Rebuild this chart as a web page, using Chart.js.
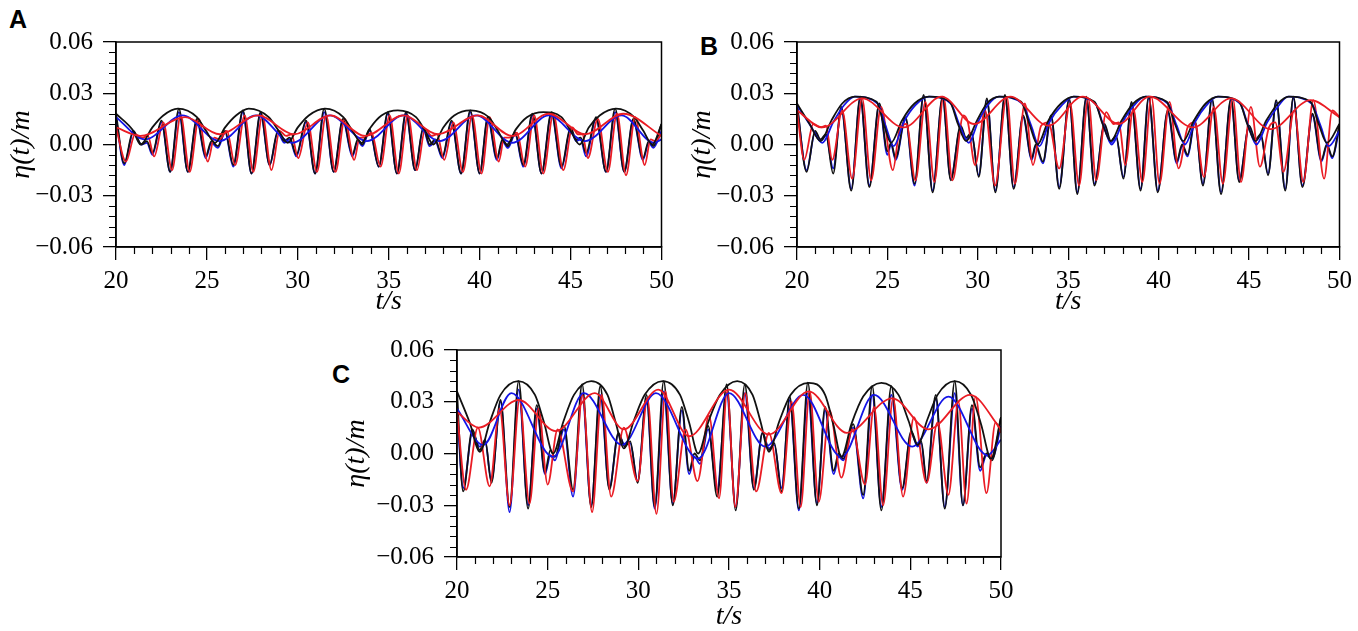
<!DOCTYPE html>
<html>
<head>
<meta charset="utf-8">
<script src="https://cdn.jsdelivr.net/npm/chart.js@4.4.0/dist/chart.umd.min.js"></script>
<style>
  body { margin: 0; background: #fff; width: 1358px; height: 631px; overflow: hidden; position: relative; }
  canvas { position: absolute; }
  .tag { position: absolute; font: bold 25px 'Liberation Sans', Arial, sans-serif; color: #000; line-height: 1; }
</style>
</head>
<body>
<div class="tag" style="left:9px;top:7px">A</div>
<div class="tag" style="left:700px;top:34px">B</div>
<div class="tag" style="left:332px;top:362px">C</div>
<canvas id="panelA" width="680" height="320" style="left:0;top:0"></canvas>
<canvas id="panelB" width="678" height="320" style="left:680px;top:0"></canvas>
<canvas id="panelC" width="680" height="321" style="left:340px;top:310px"></canvas>
<script>
const xTicks = [20, 25, 30, 35, 40, 45, 50];
const yTicks = [-0.06, -0.03, 0.00, 0.03, 0.06];

// ---- panel A ----
const aFastT = [20.0, 20.45, 20.95, 21.4, 21.7, 22.0, 22.5, 22.98, 23.46, 23.95, 24.45, 24.93, 25.25, 25.6, 26.0, 26.45, 26.98, 27.45, 27.95, 28.45, 28.9, 29.25, 29.55, 29.92, 30.45, 30.95, 31.45, 31.97, 32.48, 33.0, 33.3, 33.55, 33.95, 34.45, 34.95, 35.45, 35.95, 36.45, 36.9, 37.25, 37.55, 37.95, 38.45, 38.98, 39.48, 40.0, 40.45, 40.95, 41.25, 41.55, 41.95, 42.4, 42.9, 43.4, 43.95, 44.5, 45.0, 45.3, 45.55, 45.85, 46.4, 46.95, 47.45, 47.95, 48.45, 48.98, 49.3, 49.55, 50.0];
const aBlackFast = [0.018, -0.011, 0.008, 0.000, 0.002, -0.005, 0.014, -0.016, 0.021, -0.016, 0.015, -0.007, 0.002, -0.001, 0.008, -0.012, 0.020, -0.017, 0.019, -0.012, 0.008, 0.002, 0.004, -0.006, 0.014, -0.017, 0.021, -0.016, 0.015, -0.006, 0.003, 0.000, 0.009, -0.013, 0.019, -0.017, 0.019, -0.015, 0.010, 0.000, 0.003, -0.007, 0.014, -0.017, 0.020, -0.017, 0.016, -0.008, 0.003, -0.001, 0.007, -0.012, 0.018, -0.017, 0.019, -0.013, 0.010, 0.003, 0.004, -0.005, 0.016, -0.016, 0.021, -0.016, 0.015, -0.008, 0.002, -0.001, 0.012];
const aBlueFast = [0.016, -0.012, 0.007, 0.000, 0.001, -0.006, 0.013, -0.016, 0.019, -0.016, 0.014, -0.008, 0.001, -0.002, 0.007, -0.013, 0.019, -0.017, 0.018, -0.012, 0.007, 0.001, 0.003, -0.007, 0.013, -0.017, 0.019, -0.016, 0.014, -0.007, 0.002, -0.001, 0.008, -0.013, 0.018, -0.017, 0.018, -0.015, 0.009, -0.001, 0.002, -0.008, 0.013, -0.017, 0.019, -0.017, 0.015, -0.009, 0.002, -0.002, 0.006, -0.013, 0.017, -0.017, 0.018, -0.014, 0.009, 0.002, 0.003, -0.007, 0.015, -0.016, 0.019, -0.016, 0.014, -0.009, 0.001, -0.002, 0.008];
const aRedFastT = [20.0, 20.55, 21.05, 21.45, 21.75, 22.1, 22.6, 23.08, 23.56, 24.05, 24.55, 25.05, 25.4, 25.7, 26.1, 26.55, 27.08, 27.55, 28.05, 28.55, 29.0, 29.35, 29.65, 30.02, 30.55, 31.05, 31.55, 32.07, 32.58, 33.1, 33.4, 33.65, 34.05, 34.55, 35.05, 35.55, 36.05, 36.55, 37.0, 37.35, 37.65, 38.05, 38.55, 39.08, 39.58, 40.1, 40.55, 41.05, 41.35, 41.65, 42.05, 42.5, 43.0, 43.5, 44.05, 44.6, 45.1, 45.4, 45.65, 45.95, 46.5, 47.05, 47.55, 48.05, 48.55, 49.08, 49.4, 49.65, 50.0];
const aRedFast = [0.010, -0.010, 0.006, 0.004, 0.005, -0.007, 0.013, -0.015, 0.017, -0.016, 0.015, -0.010, 0.004, 0.003, 0.008, -0.012, 0.017, -0.016, 0.017, -0.015, 0.008, 0.005, 0.006, -0.008, 0.013, -0.016, 0.017, -0.016, 0.015, -0.009, 0.004, 0.004, 0.007, -0.013, 0.017, -0.017, 0.017, -0.015, 0.009, 0.005, 0.006, -0.009, 0.013, -0.016, 0.017, -0.017, 0.016, -0.010, 0.004, 0.004, 0.007, -0.013, 0.017, -0.017, 0.018, -0.015, 0.010, 0.006, 0.006, -0.008, 0.015, -0.016, 0.018, -0.018, 0.016, -0.012, 0.003, 0.002, 0.006];
const aBlackSlowT = [20.0, 20.95, 21.35, 22.0, 22.6, 23.4, 24.45, 24.95, 25.45, 26.0, 26.6, 27.3, 28.4, 28.95, 29.45, 30.0, 30.6, 31.5, 32.5, 33.0, 33.5, 34.0, 34.6, 35.5, 36.5, 37.0, 37.45, 38.0, 38.6, 39.5, 40.5, 41.0, 41.5, 42.0, 42.6, 43.5, 44.5, 45.0, 45.5, 46.0, 46.6, 47.5, 48.5, 49.0, 49.5, 50.0];
const aBlackSlow = [0.018, 0.008, 0.000, 0.010, 0.017, 0.021, 0.016, 0.008, 0.001, 0.010, 0.017, 0.021, 0.016, 0.008, 0.001, 0.010, 0.017, 0.021, 0.016, 0.008, 0.001, 0.010, 0.017, 0.020, 0.016, 0.008, 0.000, 0.010, 0.017, 0.020, 0.016, 0.008, 0.000, 0.009, 0.016, 0.019, 0.016, 0.008, 0.000, 0.010, 0.017, 0.021, 0.016, 0.008, 0.000, 0.012];
const aBlueSlowT = [20.0, 21.6, 23.65, 25.7, 27.7, 29.7, 31.75, 33.8, 35.8, 37.8, 39.8, 41.8, 43.8, 45.8, 47.8, 49.6, 50.0];
const aBlueSlow = [0.016, 0.003, 0.017, 0.002, 0.017, 0.001, 0.017, 0.002, 0.017, 0.002, 0.017, 0.001, 0.017, 0.002, 0.017, 0.001, 0.003];
const aRedSlowT = [20.0, 21.35, 23.8, 25.7, 27.8, 29.8, 31.8, 33.7, 35.8, 37.7, 39.9, 41.8, 43.8, 45.8, 47.9, 50.0];
const aRedSlow = [0.010, 0.005, 0.016, 0.006, 0.017, 0.006, 0.017, 0.005, 0.017, 0.006, 0.017, 0.005, 0.018, 0.006, 0.018, 0.005];

// ---- panel B ----
const bFastT = [20.0, 20.53, 21.0, 21.3, 21.6, 22.0, 22.45, 23.0, 23.5, 24.0, 24.55, 25.0, 25.2, 25.45, 26.0, 26.5, 27.0, 27.5, 28.05, 28.5, 29.05, 29.35, 29.65, 30.05, 30.5, 30.97, 31.5, 31.98, 32.5, 32.98, 33.2, 33.6, 34.05, 34.5, 35.05, 35.5, 36.0, 36.45, 37.0, 37.35, 37.65, 38.05, 38.5, 39.0, 39.45, 39.95, 40.5, 41.0, 41.3, 41.6, 42.0, 42.45, 42.95, 43.45, 44.0, 44.45, 45.0, 45.35, 45.65, 46.05, 46.5, 47.0, 47.45, 47.95, 48.5, 49.0, 49.3, 49.6, 50.0];
const bBlackFast = [0.024, -0.016, 0.008, 0.003, 0.006, -0.017, 0.022, -0.027, 0.028, -0.025, 0.024, -0.004, 0.001, -0.008, 0.016, -0.023, 0.029, -0.028, 0.028, -0.021, 0.011, 0.004, 0.007, -0.019, 0.027, -0.028, 0.029, -0.026, 0.017, -0.008, 0.000, -0.010, 0.017, -0.026, 0.027, -0.029, 0.028, -0.024, 0.012, 0.002, 0.005, -0.020, 0.025, -0.027, 0.028, -0.028, 0.020, -0.010, 0.000, -0.006, 0.014, -0.024, 0.027, -0.029, 0.027, -0.022, 0.011, 0.003, 0.006, -0.018, 0.026, -0.027, 0.028, -0.025, 0.018, -0.009, 0.000, -0.007, 0.012];
const bBlueFast = [0.023, -0.015, 0.007, 0.002, 0.005, -0.014, 0.021, -0.026, 0.027, -0.024, 0.023, -0.006, 0.000, -0.009, 0.015, -0.024, 0.028, -0.027, 0.027, -0.020, 0.010, 0.003, 0.006, -0.018, 0.026, -0.027, 0.028, -0.025, 0.016, -0.009, -0.001, -0.011, 0.016, -0.025, 0.026, -0.028, 0.027, -0.023, 0.011, 0.001, 0.004, -0.019, 0.024, -0.026, 0.027, -0.027, 0.019, -0.011, -0.001, -0.007, 0.013, -0.023, 0.026, -0.028, 0.026, -0.021, 0.010, 0.002, 0.005, -0.017, 0.025, -0.026, 0.027, -0.024, 0.017, -0.010, -0.001, -0.008, 0.010];
const bRedFastT = [20.0, 20.4, 20.9, 21.3, 21.6, 21.95, 22.5, 23.05, 23.6, 24.1, 24.65, 25.3, 25.7, 26.05, 26.55, 27.1, 27.6, 28.1, 28.6, 29.2, 29.45, 29.85, 30.4, 30.95, 31.6, 32.05, 32.6, 33.05, 33.5, 33.9, 34.5, 35.1, 35.6, 36.1, 36.55, 37.1, 37.5, 37.8, 38.15, 38.6, 39.1, 39.6, 40.05, 40.6, 41.1, 41.6, 42.0, 42.5, 43.05, 43.55, 44.1, 44.55, 45.1, 45.6, 46.1, 46.45, 46.9, 47.5, 48.0, 48.55, 49.15, 49.6, 50.0];
const bRedFast = [0.020, -0.009, 0.012, 0.010, 0.011, -0.009, 0.020, -0.020, 0.027, -0.021, 0.022, -0.015, 0.010, 0.012, -0.021, 0.025, -0.022, 0.028, -0.021, 0.017, 0.013, -0.012, 0.020, -0.024, 0.028, -0.023, 0.024, -0.012, 0.011, 0.013, -0.014, 0.024, -0.024, 0.027, -0.021, 0.019, 0.012, 0.013, -0.012, 0.021, -0.022, 0.028, -0.023, 0.025, -0.014, 0.010, 0.013, -0.019, 0.022, -0.023, 0.027, -0.022, 0.022, -0.013, 0.010, 0.013, -0.016, 0.020, -0.022, 0.026, -0.020, 0.020, 0.016];
const bBlackSlowT = [20.0, 20.7, 21.3, 21.9, 22.5, 23.2, 24.4, 24.8, 25.2, 25.8, 26.5, 27.3, 28.45, 28.9, 29.35, 29.95, 30.5, 31.2, 32.4, 32.85, 33.3, 33.9, 34.6, 35.3, 36.45, 36.9, 37.35, 37.95, 38.6, 39.3, 40.45, 40.9, 41.35, 41.95, 42.6, 43.3, 44.45, 44.9, 45.35, 45.95, 46.6, 47.2, 48.4, 48.85, 49.3, 50.0];
const bBlackSlow = [0.024, 0.012, 0.002, 0.014, 0.024, 0.028, 0.025, 0.012, 0.001, 0.014, 0.024, 0.028, 0.025, 0.012, 0.002, 0.014, 0.024, 0.028, 0.025, 0.012, 0.000, 0.014, 0.024, 0.028, 0.025, 0.012, 0.002, 0.014, 0.024, 0.028, 0.025, 0.012, 0.002, 0.014, 0.024, 0.028, 0.025, 0.012, 0.002, 0.014, 0.024, 0.028, 0.025, 0.012, 0.001, 0.012];
const bBlueSlowT = [20.0, 20.75, 21.4, 22.0, 22.6, 23.2, 24.45, 24.9, 25.35, 25.9, 26.55, 27.3, 28.5, 29.0, 29.5, 30.0, 30.55, 31.15, 32.45, 32.95, 33.4, 33.95, 34.65, 35.3, 36.5, 36.95, 37.4, 38.0, 38.65, 39.25, 40.5, 41.0, 41.45, 42.0, 42.65, 43.25, 44.5, 44.95, 45.4, 46.0, 46.65, 47.15, 48.45, 48.95, 49.4, 50.0];
const bBlueSlow = [0.023, 0.011, 0.001, 0.013, 0.023, 0.028, 0.024, 0.011, -0.001, 0.013, 0.023, 0.028, 0.024, 0.011, 0.001, 0.013, 0.023, 0.028, 0.024, 0.011, -0.001, 0.013, 0.023, 0.028, 0.024, 0.011, 0.000, 0.013, 0.023, 0.028, 0.024, 0.011, 0.000, 0.013, 0.023, 0.028, 0.024, 0.011, 0.000, 0.013, 0.023, 0.028, 0.024, 0.011, -0.001, 0.008];
const bRedSlowT = [20.0, 21.4, 23.6, 25.9, 28.0, 29.8, 31.8, 33.9, 35.8, 37.8, 39.5, 41.9, 44.0, 46.2, 48.4, 50.0];
const bRedSlow = [0.020, 0.010, 0.027, 0.010, 0.028, 0.012, 0.028, 0.011, 0.028, 0.012, 0.028, 0.010, 0.027, 0.009, 0.026, 0.016];

// ---- panel C ----
const cFastT = [20.0, 20.34, 20.85, 21.25, 21.55, 21.9, 22.4, 22.9, 23.4, 23.92, 24.4, 24.85, 25.15, 25.4, 25.9, 26.4, 26.9, 27.4, 27.9, 28.4, 28.9, 29.25, 29.55, 29.96, 30.45, 30.9, 31.4, 31.9, 32.4, 32.8, 33.1, 33.4, 33.85, 34.35, 34.87, 35.37, 35.87, 36.37, 36.85, 37.2, 37.5, 37.9, 38.35, 38.85, 39.35, 39.85, 40.3, 40.77, 41.05, 41.3, 41.85, 42.4, 42.9, 43.4, 43.95, 44.55, 45.05, 45.4, 45.6, 45.9, 46.4, 46.9, 47.45, 47.9, 48.4, 48.85, 49.2, 49.5, 50.0];
const cBlackFast = [0.036, -0.022, 0.014, 0.002, 0.008, -0.017, 0.031, -0.031, 0.042, -0.032, 0.028, -0.011, 0.002, -0.002, 0.016, -0.021, 0.040, -0.031, 0.039, -0.021, 0.012, 0.004, 0.007, -0.017, 0.034, -0.031, 0.042, -0.030, 0.027, -0.010, 0.000, -0.004, 0.016, -0.025, 0.040, -0.033, 0.040, -0.021, 0.012, 0.002, 0.006, -0.022, 0.033, -0.032, 0.041, -0.030, 0.027, -0.010, 0.000, -0.003, 0.017, -0.024, 0.039, -0.033, 0.039, -0.020, 0.013, 0.005, 0.007, -0.016, 0.034, -0.032, 0.042, -0.030, 0.028, -0.008, 0.000, -0.004, 0.021];
const cBlueFast = [0.026, -0.020, 0.012, 0.004, 0.007, -0.016, 0.030, -0.034, 0.037, -0.030, 0.026, -0.012, -0.001, -0.004, 0.014, -0.025, 0.035, -0.030, 0.034, -0.020, 0.011, 0.005, 0.006, -0.016, 0.032, -0.032, 0.036, -0.029, 0.025, -0.012, -0.002, -0.006, 0.014, -0.021, 0.035, -0.031, 0.035, -0.020, 0.012, 0.003, 0.005, -0.020, 0.031, -0.033, 0.035, -0.029, 0.025, -0.012, -0.002, -0.004, 0.015, -0.026, 0.034, -0.031, 0.034, -0.021, 0.012, 0.004, 0.006, -0.017, 0.032, -0.031, 0.035, -0.030, 0.026, -0.010, -0.001, -0.003, 0.016];
const cRedFastT = [20.0, 20.5, 21.15, 21.8, 22.35, 22.9, 23.45, 24.0, 24.5, 25.0, 25.55, 26.4, 26.92, 27.45, 27.98, 28.5, 29.2, 29.96, 30.5, 31.0, 31.5, 31.95, 32.6, 33.26, 33.9, 34.45, 34.9, 35.35, 35.9, 36.5, 37.2, 37.9, 38.45, 38.95, 39.45, 39.95, 40.55, 41.2, 41.8, 42.5, 43.0, 43.5, 44.05, 44.6, 45.2, 45.9, 46.5, 47.1, 47.65, 48.1, 48.6, 49.2, 49.7, 50.0];
const cRedFast = [0.024, -0.021, 0.015, -0.019, 0.026, -0.030, 0.031, -0.029, 0.026, -0.018, 0.014, -0.022, 0.034, -0.034, 0.034, -0.025, 0.015, -0.016, 0.032, -0.035, 0.036, -0.028, 0.014, -0.016, 0.022, -0.026, 0.036, -0.031, 0.035, -0.022, 0.012, -0.023, 0.030, -0.031, 0.036, -0.028, 0.025, -0.014, 0.014, -0.018, 0.027, -0.030, 0.032, -0.025, 0.021, -0.017, 0.018, -0.024, 0.030, -0.029, 0.033, -0.023, 0.018, 0.012];
const cBlackSlowT = [20.0, 20.7, 21.26, 21.8, 22.4, 23.37, 24.3, 24.8, 25.3, 25.85, 26.45, 27.4, 28.3, 28.75, 29.2, 29.75, 30.35, 31.34, 32.3, 32.8, 33.3, 33.85, 34.5, 35.45, 36.3, 36.75, 37.2, 37.75, 38.4, 39.4, 40.3, 40.75, 41.2, 41.75, 42.4, 43.4, 44.35, 44.9, 45.4, 45.95, 46.5, 47.45, 48.35, 48.9, 49.45, 50.0];
const cBlackSlow = [0.036, 0.018, 0.001, 0.018, 0.034, 0.042, 0.034, 0.018, 0.000, 0.018, 0.034, 0.042, 0.034, 0.018, 0.003, 0.019, 0.034, 0.042, 0.034, 0.018, 0.000, 0.018, 0.034, 0.042, 0.034, 0.018, 0.001, 0.018, 0.034, 0.041, 0.034, 0.017, -0.002, 0.017, 0.033, 0.041, 0.034, 0.019, 0.005, 0.020, 0.034, 0.042, 0.034, 0.017, -0.003, 0.021];
const cBlueSlowT = [20.0, 21.45, 23.0, 25.3, 27.0, 29.1, 30.97, 33.3, 35.0, 37.0, 39.1, 41.2, 43.0, 45.1, 47.1, 49.25, 50.0];
const cBlueSlow = [0.026, 0.005, 0.035, -0.002, 0.035, 0.005, 0.035, -0.003, 0.035, 0.004, 0.034, -0.002, 0.034, 0.004, 0.033, -0.001, 0.008];
const cRedSlowT = [20.0, 21.2, 23.4, 25.45, 27.6, 29.2, 31.1, 32.8, 35.0, 37.2, 39.4, 41.5, 44.0, 46.0, 48.3, 50.0];
const cRedSlow = [0.024, 0.015, 0.031, 0.013, 0.035, 0.014, 0.037, 0.010, 0.037, 0.011, 0.036, 0.012, 0.032, 0.014, 0.034, 0.014];

const black = '#111111';
const blue = '#1414e6';
const red = '#ea1c24';
const serif = "'Liberation Serif', serif";

function pts(ts, vs) {
  return ts.map((t, i) => ({ x: t, y: vs[i] }));
}

function fmtY(v) {
  const s = Math.abs(v).toFixed(2);
  return v < -1e-9 ? '\u2212' + s : s;
}

// box on top/right plus the short minor ticks
const frameTicks = {
  id: 'frameTicks',
  afterDraw(chart) {
    const { ctx, chartArea: a, scales: { x, y } } = chart;
    ctx.save();
    ctx.strokeStyle = '#000';
    ctx.lineWidth = 1.5;
    ctx.strokeRect(a.left, a.top, a.right - a.left, a.bottom - a.top);
    ctx.lineWidth = 1.2;
    ctx.beginPath();
    for (let t = 21; t < 50; t++) {
      if (t % 5 === 0) continue;
      const px = Math.round(x.getPixelForValue(t)) + 0.5;
      ctx.moveTo(px, a.bottom);
      ctx.lineTo(px, a.bottom + 7);
    }
    for (let k = -9; k <= 9; k++) {
      if (k % 5 === 0) continue;
      const py = Math.round(y.getPixelForValue(k * 0.006)) + 0.5;
      ctx.moveTo(a.left, py);
      ctx.lineTo(a.left - 7, py);
    }
    ctx.stroke();
    ctx.restore();
  }
};

function line(ts, vs, color) {
  return {
    data: pts(ts, vs),
    borderColor: color,
    borderWidth: 1.8,
    pointRadius: 0,
    fill: false,
    cubicInterpolationMode: 'monotone'
  };
}

function buildPanel(canvasId, sets, box) {
  const el = document.getElementById(canvasId);
  new Chart(el, {
    type: 'line',
    data: { datasets: sets },
    options: {
      responsive: false,
      animation: false,
      events: [],
      layout: { padding: { top: box.top, right: box.right, bottom: 0, left: 0 } },
      plugins: { legend: { display: false }, tooltip: { enabled: false } },
      scales: {
        x: {
          type: 'linear', min: 20, max: 50,
          afterBuildTicks: s => { s.ticks = xTicks.map(v => ({ value: v })); },
          afterFit: s => { s.height = box.xh; },
          ticks: { color: '#000', font: { family: serif, size: 25 }, padding: 6, maxRotation: 0, autoSkip: false },
          grid: { drawOnChartArea: false, drawTicks: true, tickLength: 13, color: '#000', lineWidth: 1.3 },
          border: { display: true, color: '#000', width: 1.5 },
          title: { display: true, text: 't/s', color: '#000', padding: { top: 0, bottom: box.xt },
                   font: { family: serif, size: 28, style: 'italic', lineHeight: 1 } }
        },
        y: {
          type: 'linear', min: -0.06, max: 0.06,
          afterBuildTicks: s => { s.ticks = yTicks.map(v => ({ value: v })); },
          afterFit: s => { s.width = box.yw; },
          ticks: { color: '#000', font: { family: serif, size: 25 }, padding: 10, callback: fmtY },
          grid: { drawOnChartArea: false, drawTicks: true, tickLength: 13, color: '#000', lineWidth: 1.3 },
          border: { display: true, color: '#000', width: 1.5 },
          title: { display: true, text: '\u03b7(t)/m', color: '#000', padding: { top: box.yt, bottom: 0 },
                   font: { family: serif, size: 28, style: 'italic', lineHeight: 1 } }
        }
      }
    },
    plugins: [frameTicks]
  });
}

buildPanel('panelA', [
  line(aRedSlowT, aRedSlow, red),
  line(aBlackSlowT, aBlackSlow, black),
  line(aBlueSlowT, aBlueSlow, blue),
  line(aRedFastT, aRedFast, red),
  line(aFastT, aBlackFast, black),
  line(aFastT, aBlueFast, blue)
], { top: 42, right: 17, yw: 116, xh: 73, xt: 4, yt: 8 });

buildPanel('panelB', [
  line(bRedSlowT, bRedSlow, red),
  line(bBlackSlowT, bBlackSlow, black),
  line(bBlueSlowT, bBlueSlow, blue),
  line(bRedFastT, bRedFast, red),
  line(bFastT, bBlackFast, black),
  line(bFastT, bBlueFast, blue)
], { top: 42, right: 15, yw: 117, xh: 73, xt: 4, yt: 9 });

buildPanel('panelC', [
  line(cRedSlowT, cRedSlow, red),
  line(cBlackSlowT, cBlackSlow, black),
  line(cBlueSlowT, cBlueSlow, blue),
  line(cRedFastT, cRedFast, red),
  line(cFastT, cBlackFast, black),
  line(cFastT, cBlueFast, blue)
], { top: 40, right: 19, yw: 117, xh: 74, xt: 0, yt: 3 });
</script>
</body>
</html>
